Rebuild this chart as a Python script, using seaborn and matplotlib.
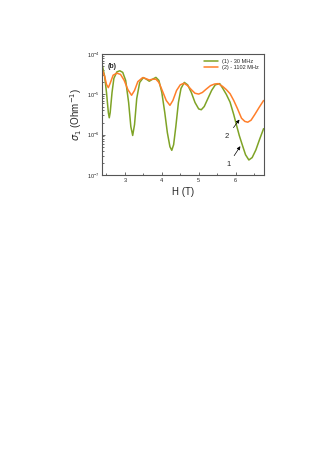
import numpy as np
import matplotlib
matplotlib.use('Agg')
import matplotlib.pyplot as plt
import seaborn as sns
from matplotlib.ticker import MultipleLocator, LogLocator

# curve (1) - 30 MHz : field H (T) and log10(sigma_1)
h1 = [2.385, 2.45, 2.50, 2.55, 2.575, 2.60, 2.65, 2.70, 2.78, 2.86, 2.94, 3.02,
      3.10, 3.16, 3.21, 3.26, 3.32, 3.40, 3.50, 3.58, 3.66, 3.75, 3.84, 3.92,
      4.00, 4.08, 4.15, 4.22, 4.27, 4.32, 4.38, 4.45, 4.52, 4.61, 4.70, 4.80,
      4.90, 5.00, 5.07, 5.15, 5.25, 5.35, 5.45, 5.57, 5.66, 5.75, 5.85, 5.95,
      6.03, 6.10, 6.18, 6.27, 6.36, 6.45, 6.55, 6.65, 6.76]
logs1 = [-4.27, -4.55, -4.95, -5.45, -5.58, -5.45, -4.95, -4.60, -4.44, -4.41, -4.45, -4.65,
         -5.20, -5.80, -6.02, -5.75, -5.10, -4.70, -4.58, -4.62, -4.67, -4.62, -4.575, -4.65,
         -4.95, -5.45, -5.95, -6.30, -6.39, -6.25, -5.80, -5.20, -4.85, -4.70, -4.76, -4.95,
         -5.20, -5.36, -5.38, -5.30, -5.10, -4.90, -4.76, -4.73, -4.86, -5.00, -5.19, -5.50,
         -5.78, -6.02, -6.25, -6.50, -6.63, -6.57, -6.38, -6.12, -5.85]

# curve (2) - 1102 MHz
h2 = [2.385, 2.45, 2.50, 2.55, 2.60, 2.68, 2.78, 2.88, 2.98, 3.08, 3.18, 3.26,
      3.35, 3.48, 3.58, 3.66, 3.75, 3.84, 3.92, 4.02, 4.12, 4.22, 4.30, 4.40,
      4.50, 4.60, 4.70, 4.80, 4.90, 5.00, 5.10, 5.20, 5.32, 5.43, 5.53, 5.65,
      5.75, 5.85, 5.95, 6.05, 6.16, 6.25, 6.33, 6.42, 6.52, 6.64, 6.76]
logs2 = [-4.39, -4.55, -4.75, -4.83, -4.72, -4.52, -4.47, -4.50, -4.65, -4.88, -5.02, -4.90,
         -4.68, -4.58, -4.61, -4.64, -4.62, -4.62, -4.70, -4.92, -5.15, -5.27, -5.15, -4.90,
         -4.76, -4.72, -4.78, -4.88, -4.97, -4.99, -4.95, -4.87, -4.78, -4.74, -4.73, -4.80,
         -4.88, -4.98, -5.15, -5.35, -5.59, -5.67, -5.69, -5.64, -5.50, -5.32, -5.15]

labels = ['(1) - 30 MHz', '(2) - 1102 MHz']
colors = ['#7fa326', '#ff7f2a']

sns.set_style('ticks')
plt.rcParams['font.family'] = ['Liberation Sans', 'DejaVu Sans']
plt.rcParams['mathtext.fontset'] = 'dejavusans'

fig = plt.figure(figsize=(3.32, 4.70), dpi=100)
ax = fig.add_axes([0.308, 0.628, 0.486, 0.2565])

sns.lineplot(x=h1, y=10 ** np.array(logs1), ax=ax, color=colors[0], lw=1.1,
             label=labels[0], sort=False)
sns.lineplot(x=h2, y=10 ** np.array(logs2), ax=ax, color=colors[1], lw=1.1,
             label=labels[1], sort=False)

ax.set_yscale('log')
ax.set_xlim(2.385, 6.76)
ax.set_ylim(1e-7, 1e-4)
ax.xaxis.set_major_locator(MultipleLocator(1))
ax.xaxis.set_minor_locator(MultipleLocator(0.5))
ax.yaxis.set_major_locator(LogLocator(base=10, numticks=5))
ax.yaxis.set_minor_locator(LogLocator(base=10, subs=np.arange(2, 10), numticks=20))
ax.tick_params(which='both', direction='in', labelsize=4, width=0.5, color='#333333', pad=2)
ax.tick_params(which='major', length=2.5)
ax.tick_params(which='minor', length=1.3)
for sp in ax.spines.values():
    sp.set_linewidth(0.8)
    sp.set_color('#555555')

ax.set_xlabel('H (T)', fontsize=7, labelpad=3)
ax.set_ylabel(r'$\sigma_1$ (Ohm$^{-1}$)', fontsize=7, labelpad=2)

ax.text(0.035, 0.93, '(b)', transform=ax.transAxes, fontsize=5,
        fontweight='bold', va='top', ha='left')

ax.legend(loc='upper right', fontsize=4, frameon=False, handlelength=2.6,
          borderaxespad=0.4, labelspacing=0.15)

arrow = dict(arrowstyle='-|>', color='black', lw=0.5, mutation_scale=5)
ax.annotate('2', xy=(6.15, 10 ** -5.57), xytext=(5.76, 10 ** -6.05),
            fontsize=5.5, ha='center', va='center', arrowprops=arrow)
ax.annotate('1', xy=(6.17, 10 ** -6.23), xytext=(5.80, 10 ** -6.75),
            fontsize=5.5, ha='center', va='center', arrowprops=arrow)

fig.savefig('out.png', dpi=100)
